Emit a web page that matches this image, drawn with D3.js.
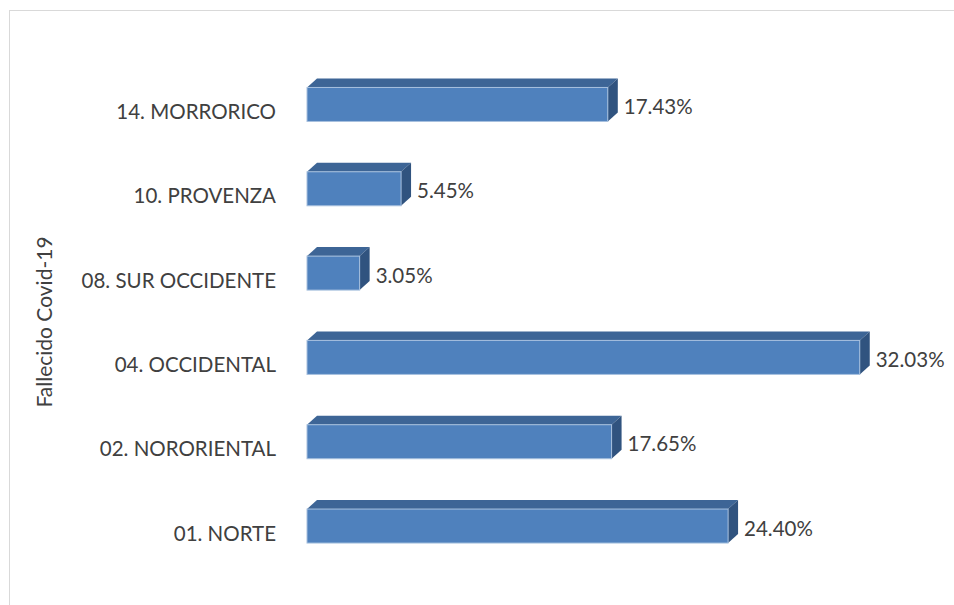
<!doctype html>
<html lang="es">
<head>
  <meta charset="utf-8">
  <script src="https://cdn.jsdelivr.net/npm/d3@7"></script>
  <style>
    body { margin: 0; background: #fff; }
    text { font-family: Lato, "Open Sans", sans-serif; fill: #404040; }
  </style>
</head>
<body>
  <svg id="chart" width="954" height="605"></svg>
  <script>
    // data, top to bottom as in the chart
    var categories = ["14. MORRORICO", "10. PROVENZA", "08. SUR OCCIDENTE", "04. OCCIDENTAL", "02. NORORIENTAL", "01. NORTE"];
    var values = [17.43, 5.45, 3.05, 32.03, 17.65, 24.40];
    var axisTitle = "Fallecido Covid-19";

    var svg = d3.select("#chart");

    // chart area border
    svg.append("rect")
        .attr("x", 9.5).attr("y", 10.5)
        .attr("width", 1000).attr("height", 700)
        .attr("fill", "none").attr("stroke", "#d9d9d9");

    var x = d3.scaleLinear().domain([0, 35]).range([307, 911]);
    var y = d3.scaleBand().domain(categories).range([62.3, 568.2]);
    var barH = 34, dx = 10, dy = -9;

    var g = svg.append("g");
    var bars = g.selectAll("g.bar")
      .data(categories.map(function(c, i) { return {cat: c, val: values[i]}; }))
      .enter().append("g").attr("class", "bar");

    function barTop(d) { return y(d.cat) + y.bandwidth() / 2 - barH / 2; }

    // top face
    bars.append("path")
        .attr("fill", "#3d6596")
        .attr("d", function(d) {
          var x0 = x(0), x1 = x(d.val), t = barTop(d);
          return "M" + x0 + "," + t + "L" + (x0 + dx) + "," + (t + dy) + "L" + (x1 + dx) + "," + (t + dy) + "L" + x1 + "," + t + "Z";
        });
    // side face
    bars.append("path")
        .attr("fill", "#30537f")
        .attr("d", function(d) {
          var x1 = x(d.val), t = barTop(d);
          return "M" + x1 + "," + t + "L" + (x1 + dx) + "," + (t + dy) + "L" + (x1 + dx) + "," + (t + dy + barH) + "L" + x1 + "," + (t + barH) + "Z";
        });
    // front face
    bars.append("rect")
        .attr("x", x(0))
        .attr("y", barTop)
        .attr("width", function(d) { return x(d.val) - x(0); })
        .attr("height", barH)
        .attr("fill", "#4f81bd")
        .attr("stroke", "#a7c0de").attr("stroke-width", 1);

    // value labels
    bars.append("text")
        .attr("x", function(d) { return x(d.val) + dx + 6; })
        .attr("y", function(d) { return y(d.cat) + y.bandwidth() / 2 + 9.5; })
        .style("font-size", "20.5px")
        .text(function(d) { return d.val.toFixed(2) + "%"; });

    // category labels
    svg.append("g")
        .attr("transform", "translate(286,8)")
        .call(d3.axisLeft(y).tickSize(0).tickPadding(10))
        .call(function(a) {
          a.select(".domain").remove();
          a.selectAll("text").style("font-size", "20.5px").attr("fill", "#404040")
            .style("font-family", "Lato, 'Open Sans', sans-serif");
        });

    // axis title
    svg.append("text")
        .attr("transform", "rotate(-90)")
        .attr("x", -322).attr("y", 52)
        .style("text-anchor", "middle")
        .style("font-size", "21px")
        .text(axisTitle);
  </script>
</body>
</html>
